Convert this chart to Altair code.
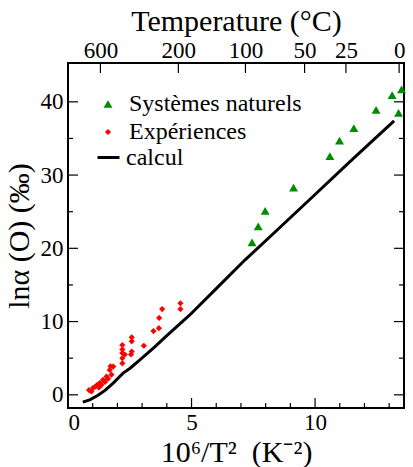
import altair as alt
import pandas as pd

# ---- data ----
nat_x = [13.50, 13.12, 13.38, 12.47, 11.57, 10.99, 10.60, 9.13, 7.98, 7.70, 7.45]
nat_y = [41.7, 40.9, 38.5, 38.9, 36.4, 34.7, 32.6, 28.3, 25.1, 23.0, 20.8]

exp_x = [0.85, 0.95, 1.02, 1.10, 1.18, 1.25, 1.29, 1.35, 1.42, 1.50, 1.56, 1.62, 1.69, 1.72, 1.76, 1.83,
         2.20, 2.20, 2.20, 2.20, 2.20, 2.30, 2.55, 2.58, 2.58, 2.58,
         3.07, 3.46, 3.68, 3.69, 3.81, 4.55, 4.55]
exp_y = [0.65, 0.45, 0.95, 1.10, 1.35, 1.00, 1.60, 1.35, 2.05, 1.75, 2.50, 2.20, 3.40, 3.90, 2.75, 3.85,
         4.30, 5.00, 5.70, 6.20, 6.80, 5.50, 5.50, 5.90, 7.30, 7.85,
         6.70, 8.70, 9.10, 10.50, 11.70, 11.70, 12.50]

calc_x = [0.60, 0.88, 1.20, 1.50, 1.83, 2.23, 2.50, 2.91, 3.50, 4.00, 4.93, 6.00, 7.16, 8.50, 10.00, 11.50, 13.20]
calc_y = [-1.00, -0.68, -0.10, 0.60, 1.60, 2.96, 3.60, 4.77, 6.50, 8.07, 10.90, 14.50, 18.40, 22.60, 27.35, 32.10, 37.40]

point_series = ["Systèmes naturels", "Expériences"]
point_colors = ["#008b00", "#ff0000"]
point_shapes = ["triangle-up", "diamond"]
point_sizes = [80, 38]
line_series = ["calcul"]

temp_labels_c = [600, 200, 100, 50, 25, 0]
x_major = [0, 5, 10]
x_minor = [1, 2, 3, 4, 6, 7, 8, 9, 11, 12, 13]
y_major = [0, 10, 20, 30, 40]
y_minor = [5, 15, 25, 35]

x_domain = [0, 13.6]
y_domain = [-1.8, 45.3]

# ---- tables ----
pts = pd.DataFrame({
    "x": nat_x + exp_x,
    "y": nat_y + exp_y,
    "series": [point_series[0]] * len(nat_x) + [point_series[1]] * len(exp_x),
})
calc = pd.DataFrame({"x": calc_x, "y": calc_y, "name": line_series * len(calc_x)})
temp_pos = [1e6 / (t + 273.15) ** 2 for t in temp_labels_c]

W, H = 336, 345
FONT = "Liberation Serif"
MAJ, MIN = 10, 5


def xs():
    return alt.Scale(domain=x_domain, nice=False, zero=False)


def ys():
    return alt.Scale(domain=y_domain, nice=False, zero=False)


def yaxis():
    return alt.Axis(values=y_major, title="lnα (O) (‰)", ticks=False, domain=False, grid=False,
                    labelFontSize=23, labelPadding=5, titleFontSize=30, titlePadding=6)


line = alt.Chart(calc).mark_line(strokeWidth=3).encode(
    x=alt.X("x:Q", scale=xs(), axis=alt.Axis(values=x_major, title="10⁶/T²\u2002(K⁻²)", ticks=False,
                                             domain=False, grid=False, labelFontSize=23,
                                             labelPadding=3, titleFontSize=30, titlePadding=3)),
    y=alt.Y("y:Q", scale=ys(), axis=yaxis()),
    stroke=alt.Stroke("name:N", scale=alt.Scale(domain=line_series, range=["black"]),
                      legend=alt.Legend(title=None, orient="none", legendX=28, legendY=82,
                                        labelFontSize=24, labelFont=FONT, symbolSize=484,
                                        symbolStrokeWidth=3, labelOffset=5, padding=0,
                                        labelLimit=400, symbolType="stroke")),
)

pt_legend = alt.Legend(title=None, orient="none", legendX=28, legendY=29, labelFontSize=24,
                       labelFont=FONT, labelOffset=9, rowPadding=4, padding=0, labelLimit=400,
                       symbolStrokeWidth=0)

points = alt.Chart(pts).mark_point(filled=True, opacity=1).encode(
    x=alt.X("x:Q", scale=xs(), axis=None),
    y=alt.Y("y:Q", scale=ys(), axis=yaxis()),
    color=alt.Color("series:N", scale=alt.Scale(domain=point_series, range=point_colors), legend=pt_legend),
    shape=alt.Shape("series:N", scale=alt.Scale(domain=point_series, range=point_shapes), legend=pt_legend),
    size=alt.Size("series:N", scale=alt.Scale(domain=point_series, range=point_sizes), legend=pt_legend),
)


def vticks(vals, length, side, axis=None):
    df = pd.DataFrame({"v": vals})
    if side == "bottom":
        y0, y1 = H, H - length
    else:
        y0, y1 = 0, length
    return alt.Chart(df).mark_rule(color="black", strokeWidth=1.2).encode(
        x=alt.X("v:Q", scale=xs(), axis=axis), y=alt.value(y0), y2=alt.value(y1))


def hticks(vals, length, side):
    df = pd.DataFrame({"v": vals})
    if side == "left":
        x0, x1 = 0, length
    else:
        x0, x1 = W, W - length
    return alt.Chart(df).mark_rule(color="black", strokeWidth=1.2).encode(
        y=alt.Y("v:Q", scale=ys(), axis=yaxis()), x=alt.value(x0), x2=alt.value(x1))


top_axis = alt.Axis(orient="top", values=temp_pos, title="Temperature (°C)", ticks=False, domain=False,
                    grid=False, labelFontSize=23, labelPadding=1, titleFontSize=30, titlePadding=3,
                    labelExpr="format(round(1000 / sqrt(datum.value) - 273.15), 'd')")

layers = [
    vticks(x_major, MAJ, "bottom"), vticks(x_minor, MIN, "bottom"),
    vticks(temp_pos, MAJ, "top", top_axis),
    hticks(y_major, MAJ, "left"), hticks(y_minor, MIN, "left"),
    hticks(y_major, MAJ, "right"), hticks(y_minor, MIN, "right"),
    line, points,
]

chart = alt.layer(*layers).resolve_scale(x="independent").properties(
    width=W, height=H,
    padding={"left": 68, "top": 63, "right": 9, "bottom": 59},
    autosize=alt.AutoSizeParams(type="none"),
).configure_view(stroke="black", strokeWidth=2).configure_axis(
    labelFont=FONT, titleFont=FONT, labelColor="black", titleColor="black", titleFontWeight="normal"
).configure_legend(labelColor="black", labelFont=FONT)

chart.save("out.html", embed_options={"renderer": "svg", "actions": False})
